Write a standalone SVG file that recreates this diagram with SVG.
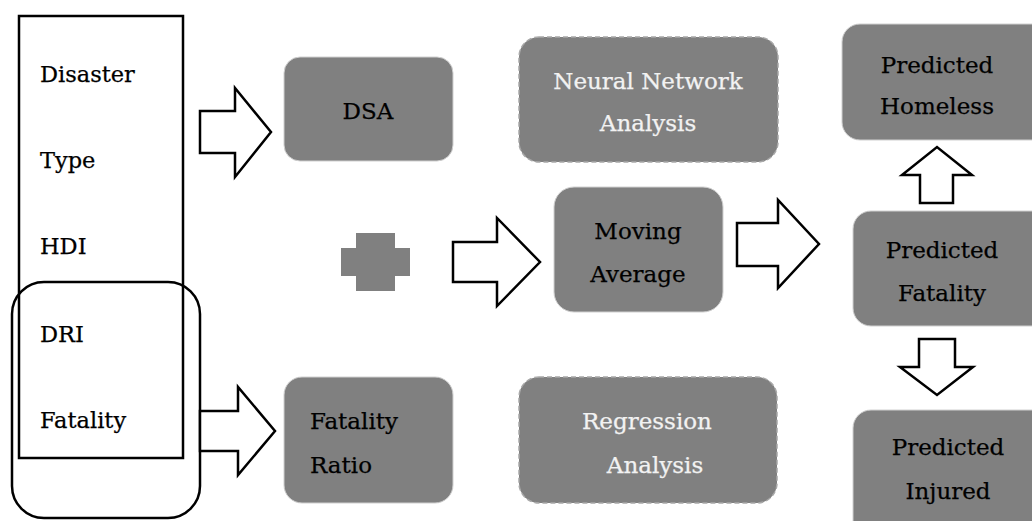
<svg xmlns="http://www.w3.org/2000/svg" width="1032" height="521" viewBox="0 0 1032 521">
<style>
.box{fill:#808080;stroke:#d0d0d0;stroke-width:1}
.dbox{fill:#808080;stroke:#a8a8a8;stroke-width:1.5;stroke-dasharray:5 3}
.t{font-family:"DejaVu Serif","Liberation Serif",serif;font-size:23px;fill:#000;stroke:#000;stroke-width:0.25}
.w{fill:#f2f2f2;stroke:#f2f2f2}
.l{font-family:"DejaVu Serif","Liberation Serif",serif;font-size:22.5px;fill:#000;stroke:#000;stroke-width:0.25}
.arr{fill:#fff;stroke:#000;stroke-width:2.5;stroke-linejoin:miter}
.frame{fill:none;stroke:#000;stroke-width:2.5}
</style>
<rect width="1032" height="521" fill="#fff"/>
<g id="inputs">
<rect class="frame" x="19" y="16" width="164" height="442"/>
<rect class="frame" x="12" y="282" width="188" height="236" rx="32"/>
<text class="l" x="40" y="82">Disaster</text>
<text class="l" x="40" y="168">Type</text>
<text class="l" x="40" y="254">HDI</text>
<text class="l" x="40" y="342">DRI</text>
<text class="l" x="40" y="428">Fatality</text>
</g>
<g id="dsa">
<rect class="box" x="284" y="57" width="169" height="104" rx="16"/>
<text class="t" x="368" y="119" text-anchor="middle">DSA</text>
</g>
<g id="neural">
<rect class="dbox" x="519" y="37" width="259" height="125" rx="20"/>
<text class="t w" x="648" y="89" text-anchor="middle">Neural Network</text>
<text class="t w" x="648" y="131" text-anchor="middle">Analysis</text>
</g>
<g id="plus">
<rect x="356" y="233" width="39" height="58" fill="#808080"/>
<rect x="341" y="248" width="69" height="28" fill="#808080"/>
</g>
<g id="moving">
<rect class="box" x="554" y="187" width="169" height="125" rx="20"/>
<text class="t" x="638" y="239" text-anchor="middle">Moving</text>
<text class="t" x="638" y="282" text-anchor="middle">Average</text>
</g>
<g id="fratio">
<rect class="box" x="284" y="377" width="169" height="126" rx="18"/>
<text class="t" x="310" y="429">Fatality</text>
<text class="t" x="310" y="473">Ratio</text>
</g>
<g id="regression">
<rect class="dbox" x="519" y="377" width="258" height="126" rx="20"/>
<text class="t w" x="647" y="429" text-anchor="middle">Regression</text>
<text class="t w" x="655" y="473" text-anchor="middle">Analysis</text>
</g>
<g id="homeless">
<rect class="box" x="842" y="24" width="210" height="116" rx="18"/>
<text class="t" x="937" y="73" text-anchor="middle">Predicted</text>
<text class="t" x="937" y="114" text-anchor="middle">Homeless</text>
</g>
<g id="pfatality">
<rect class="box" x="853" y="211" width="200" height="115" rx="18"/>
<text class="t" x="942" y="258" text-anchor="middle">Predicted</text>
<text class="t" x="942" y="301" text-anchor="middle">Fatality</text>
</g>
<g id="injured">
<rect class="box" x="853" y="410" width="200" height="130" rx="18"/>
<text class="t" x="948" y="455" text-anchor="middle">Predicted</text>
<text class="t" x="948" y="499" text-anchor="middle">Injured</text>
</g>
<g id="connectors">
<polygon class="arr" points="200,111 235,111 235,88 271,132 235,177 235,153 200,153"/>
<polygon class="arr" points="200,411 238,411 238,387 275,431 238,475 238,451 200,451"/>
<polygon class="arr" points="453,242 497,242 497,218 540,262 497,306 497,282 453,282"/>
<polygon class="arr" points="737,223 778,223 778,200 819,244 778,288 778,266 737,266"/>
<polygon class="arr" points="920,203 920,175 902,175 937,147 972,175 953,175 953,203"/>
<polygon class="arr" points="919,339 955,339 955,367 973,367 937,395 900,367 919,367"/>
</g>
</svg>
